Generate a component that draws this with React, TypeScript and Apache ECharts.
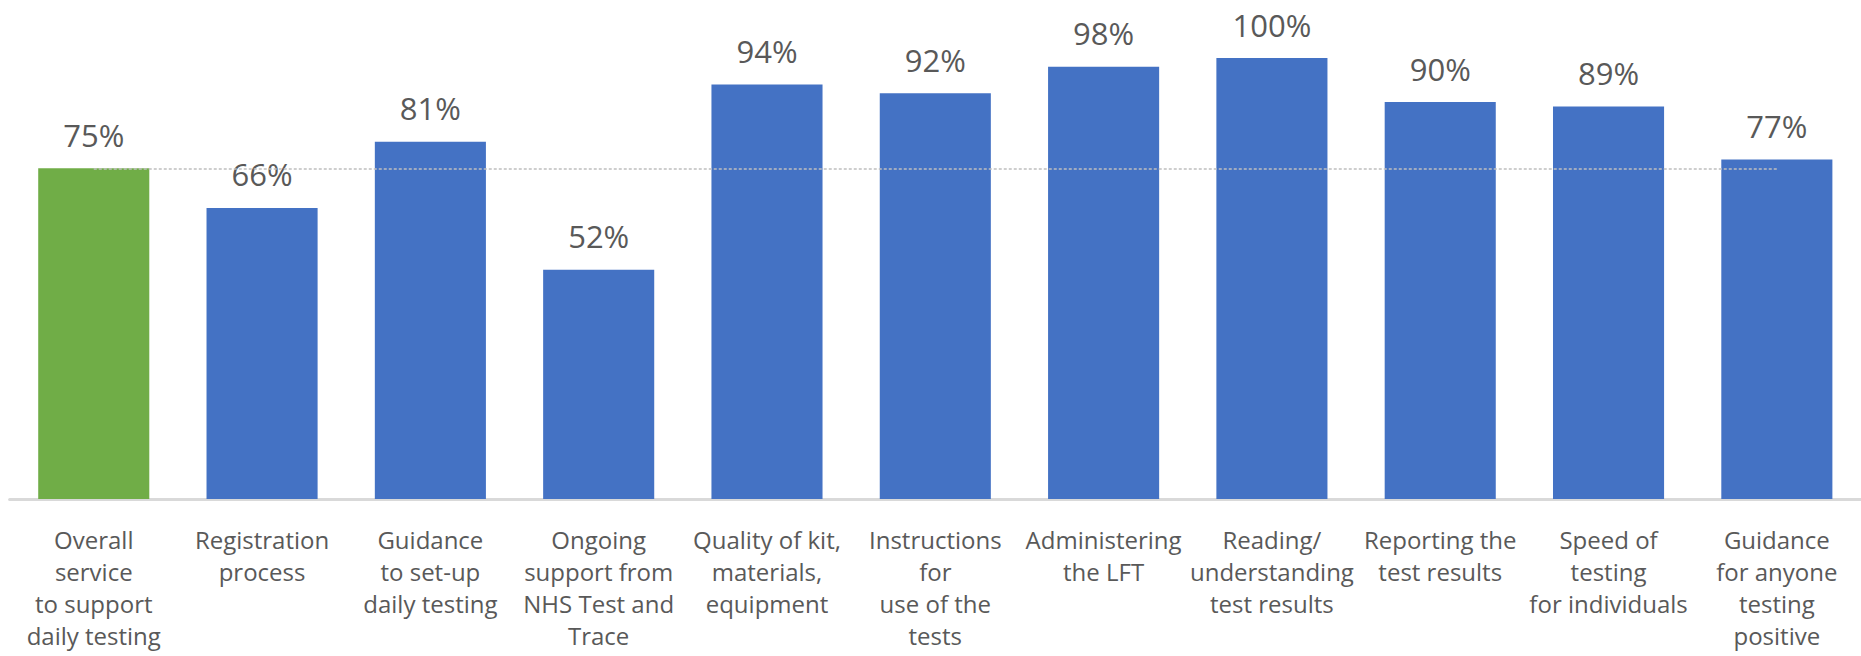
import React, { useEffect, useRef } from "react";
import * as echarts from "echarts";

const categories: string[] = [
  "Overall\nservice\nto support\ndaily testing",
  "Registration\nprocess",
  "Guidance\nto set-up\ndaily testing",
  "Ongoing\nsupport from\nNHS Test and\nTrace",
  "Quality of kit,\nmaterials,\nequipment",
  "Instructions\nfor\nuse of the\ntests",
  "Administering\nthe LFT",
  "Reading/\nunderstanding\ntest results",
  "Reporting the\ntest results",
  "Speed of\ntesting\nfor individuals",
  "Guidance\nfor anyone\ntesting\npositive",
];

const satisfaction: number[] = [75, 66, 81, 52, 94, 92, 98, 100, 90, 89, 77];

const overallValue = satisfaction[0];

const GREEN = "#70AD47";
const BLUE = "#4472C4";
const TEXT = "#595959";
const FONT = "'Open Sans', 'Noto Sans', sans-serif";

export default function App() {
  const ref = useRef<HTMLDivElement>(null);

  useEffect(() => {
    if (!ref.current) return;
    const chart = echarts.init(ref.current, undefined, { renderer: "svg" });
    chart.setOption({
      animation: false,
      backgroundColor: "#ffffff",
      grid: { left: 9.6, right: -5, top: 58, bottom: 157, containLabel: false },
      xAxis: {
        type: "category",
        data: categories,
        axisLine: { show: true, lineStyle: { color: "#d9d9d9", width: 3 } },
        axisTick: { show: false },
        axisLabel: {
          interval: 0,
          hideOverlap: false,
          margin: 24,
          color: TEXT,
          fontFamily: FONT,
          fontSize: 24,
          lineHeight: 32,
          align: "center",
        },
      },
      yAxis: {
        type: "value",
        min: 0,
        max: 100,
        show: false,
        splitLine: { show: false },
      },
      series: [
        {
          type: "bar",
          barWidth: "66%",
          data: satisfaction.map((v, i) => ({
            value: v,
            itemStyle: { color: i === 0 ? GREEN : BLUE },
          })),
          label: {
            show: true,
            position: "top",
            distance: 18,
            formatter: "{c}%",
            color: TEXT,
            fontFamily: FONT,
            fontSize: 31,
          },
          markLine: {
            silent: true,
            symbol: "none",
            label: { show: false },
            lineStyle: { color: "#bfbfbf", type: [3, 2], width: 1.5 },
            z: 5,
            data: [
              [
                { coord: [0, overallValue] },
                { coord: [categories.length - 1, overallValue] },
              ],
            ],
          },
        },
      ],
    });
    return () => chart.dispose();
  }, []);

  return (
    <div
      ref={ref}
      style={{ position: "absolute", left: 0, top: 0, width: 1861, height: 656 }}
    />
  );
}
